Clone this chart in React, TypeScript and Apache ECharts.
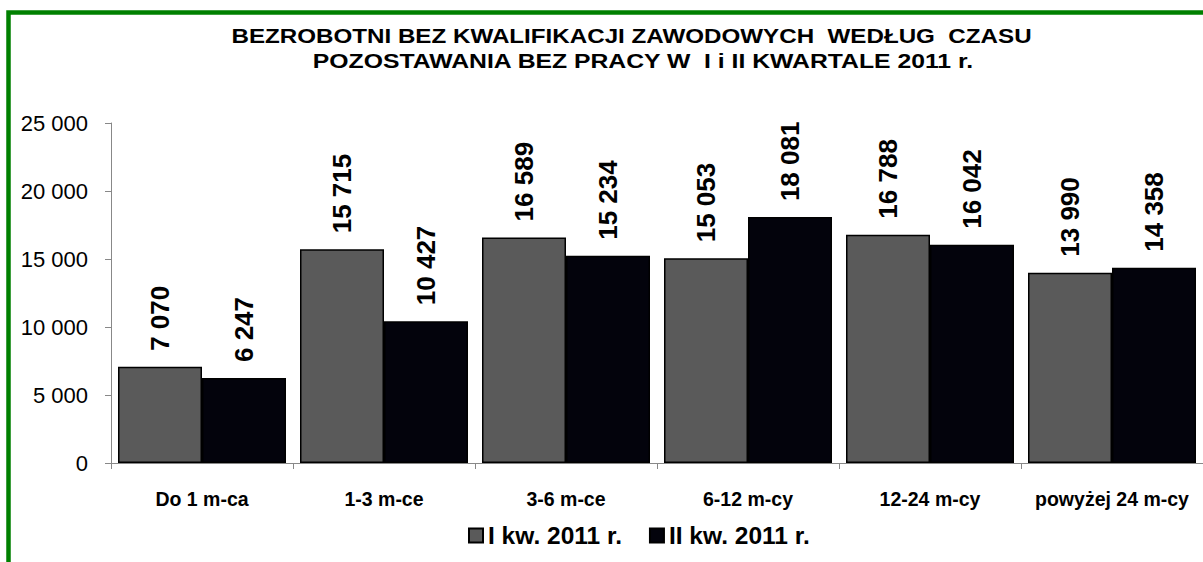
import React, { useEffect, useRef } from "react";
import * as echarts from "echarts";

const categories = ["Do 1 m-ca", "1-3 m-ce", "3-6 m-ce", "6-12 m-cy", "12-24 m-cy", "powyżej 24 m-cy"];
const seriesNames = ["I kw. 2011 r.", "II kw. 2011 r."];
const q1Values = [7070, 15715, 16589, 15053, 16788, 13990];
const q2Values = [6247, 10427, 15234, 18081, 16042, 14358];
const titleLines = [
  "BEZROBOTNI BEZ KWALIFIKACJI ZAWODOWYCH  WEDŁUG  CZASU",
  "POZOSTAWANIA BEZ PRACY W  I i II KWARTALE 2011 r.",
];

const FONT = "'Liberation Sans', Arial, Helvetica, sans-serif";
const fmt = (v: number) => String(v).replace(/\B(?=(\d{3})+(?!\d))/g, " ");

export default function App() {
  const ref = useRef<HTMLDivElement>(null);
  useEffect(() => {
    if (!ref.current) return;
    const chart = echarts.init(ref.current, null, { renderer: "svg" });
    const label = {
      show: true,
      position: "top",
      rotate: 90,
      align: "left",
      verticalAlign: "middle",
      distance: 16,
      fontFamily: FONT,
      fontWeight: "bold",
      fontSize: 26,
      color: "#000",
      formatter: (p: any) => fmt(p.value),
    };
    const titleStyle = (text: string) => ({
      text,
      font: `bold 19.5px ${FONT}`,
      fill: "#000",
      textAlign: "center",
      textVerticalAlign: "top",
    });
    chart.setOption({
      animation: false,
      backgroundColor: "#fff",
      textStyle: { fontFamily: FONT },
      graphic: [
        {
          type: "rect",
          shape: { x: 8.5, y: 12.5, width: 1400, height: 800 },
          style: { fill: "none", stroke: "#008000", lineWidth: 4.5 },
          z: 100,
        },
        {
          type: "text",
          x: 631.5,
          y: 26,
          scaleX: 1.24,
          style: titleStyle(titleLines[0]),
        },
        {
          type: "text",
          x: 643,
          y: 51.5,
          scaleX: 1.27,
          style: titleStyle(titleLines[1]),
        },
      ],
      legend: {
        data: seriesNames,
        left: 468,
        top: 523,
        padding: 0,
        itemWidth: 14,
        itemHeight: 14,
        itemGap: 27,
        icon: "rect",
        textStyle: {
          fontFamily: FONT,
          fontWeight: "bold",
          fontSize: 24.5,
          color: "#000",
        },
      },
      grid: { left: 111, top: 123, width: 1102, height: 340 },
      xAxis: {
        type: "category",
        data: categories,
        axisLine: { lineStyle: { color: "#888", width: 1 } },
        axisTick: { show: true, length: 6, alignWithLabel: false, lineStyle: { color: "#888" } },
        axisLabel: {
          interval: 0,
          margin: 26,
          fontFamily: FONT,
          fontWeight: "bold",
          fontSize: 19.5,
          color: "#000",
        },
      },
      yAxis: {
        type: "value",
        min: 0,
        max: 25000,
        interval: 5000,
        splitLine: { show: false },
        axisLine: { show: true, lineStyle: { color: "#888", width: 1 } },
        axisTick: { show: true, length: 6, lineStyle: { color: "#888" } },
        axisLabel: {
          margin: 23,
          fontFamily: FONT,
          fontSize: 22,
          color: "#000",
          formatter: (v: number) => fmt(v),
        },
      },
      series: [
        {
          name: seriesNames[0],
          type: "bar",
          data: q1Values,
          barWidth: 84,
          barGap: "0%",
          itemStyle: { color: "#5a5a5a", borderColor: "#000", borderWidth: 1.5 },
          label,
        },
        {
          name: seriesNames[1],
          type: "bar",
          data: q2Values,
          barWidth: 84,
          barGap: "0%",
          itemStyle: { color: "#03030c", borderColor: "#000", borderWidth: 1.5 },
          label,
        },
      ],
    });
    return () => chart.dispose();
  }, []);
  return (
    <div style={{ position: "absolute", left: 0, top: 0, width: 1203, height: 562, overflow: "hidden" }}>
      <div ref={ref} style={{ width: 1203, height: 562 }} />
    </div>
  );
}
